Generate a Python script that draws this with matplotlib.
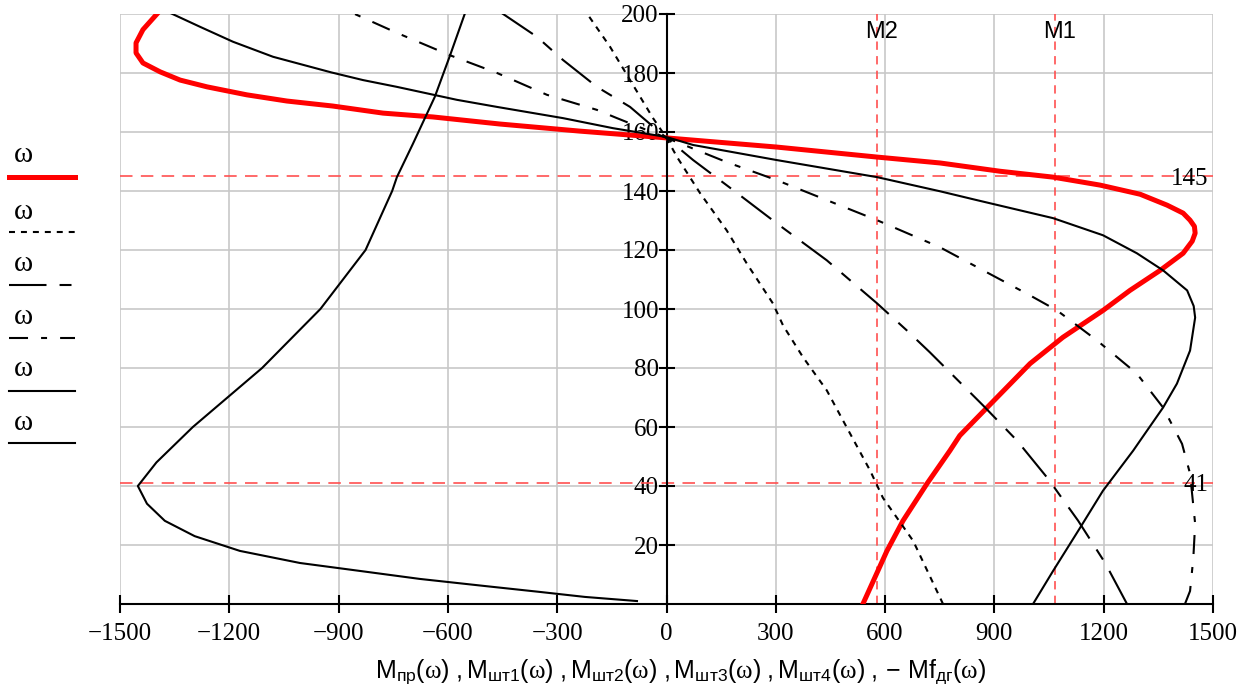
import matplotlib.pyplot as plt
from matplotlib.lines import Line2D

plt.rcParams["font.family"] = ["Liberation Serif", "DejaVu Serif"]
plt.rcParams["mathtext.fontset"] = "custom"
plt.rcParams["mathtext.rm"] = "Liberation Sans"
plt.rcParams["mathtext.it"] = "Liberation Serif"
plt.rcParams["lines.scale_dashes"] = False

# приведённый момент M_пр(ω)
w_pr = [0, 18, 28.2, 40.8, 52, 57.1, 66.6, 81.5, 90.4, 99.5, 106.3, 113.1, 118.9, 123, 125.7, 128,
        130.1, 132.5, 135.2, 138.9, 142, 144.7, 146.7, 149.5, 151.5, 154.9, 158, 160.3, 162.7,
        165.1, 166.4, 168.8, 170.5, 172.6, 175.3, 177.6, 180.4, 183.4, 186.8, 190.2, 194.7, 200.5]
m_pr = [539, 605, 649, 715, 778, 805, 880, 998, 1088, 1198, 1272, 1355, 1418, 1443, 1451, 1449,
        1437, 1418, 1374, 1300, 1190, 1061, 915, 751, 578, 302, 0, -238, -457,
        -641, -778, -916, -1042, -1152, -1261, -1335, -1390, -1437, -1456, -1456, -1437, -1395]

# M_шт1(ω)
w_sht1 = [0, 21.4, 36, 45.2, 59.8, 72.4, 83.6, 94.4, 101.9, 115.5, 126.7, 139.3, 151.5, 158,
          164.7, 177.6, 188.9, 200.3]
m_sht1 = [759, 677, 594, 559, 495, 440, 375, 320, 292, 220, 165, 92, 29, 0,
          -37, -100, -155, -219]

# M_шт2(ω)
w_sht2 = [0, 13.9, 28.2, 42.5, 51.3, 55.4, 67.3, 85.3, 92.7, 101.9, 116.5, 129.1, 140.3, 150.5,
          158, 164.7, 168.5, 175.3, 184.4, 192.3, 200.3]
m_sht2 = [1264, 1204, 1130, 1047, 989, 962, 869, 723, 660, 578, 440, 302, 183, 73,
          0, -64, -100, -191, -284, -356, -452]

# M_шт3(ω)
w_sht3 = [0, 4.4, 15.6, 27.2, 44.2, 54.3, 66.6, 78.1, 89.3, 99.5, 104.6, 113.1, 120.9, 130.1,
          136.9, 143.7, 149.8, 158, 164.7, 167.5, 172.6, 180, 186, 193.6, 200.3]
m_sht3 = [1423, 1437, 1446, 1451, 1437, 1415, 1363, 1291, 1182, 1072, 998, 869, 751, 578,
          440, 302, 165, 0, -136, -191, -328, -465, -594, -740, -861]

# M_шт4(ω)
w_sht4 = [0, 11.2, 25.8, 38.4, 52, 55.4, 66.6, 74.7, 85.9, 97.1, 101, 106.3, 113.1, 118.9, 125,
          130.8, 136.9, 139.9, 144.7, 150.5, 155.6, 158.3, 161.3, 164.7, 168.5, 170.9, 175.3,
          177.6, 180.2, 185.5, 190.6, 195.7, 200.4]
m_sht4 = [1006, 1061, 1135, 1198, 1281, 1300, 1363, 1401, 1437, 1451, 1447, 1429, 1363, 1291, 1198,
          1061, 852, 751, 578, 302, 73, 0, -147, -284, -465, -575, -740,
          -833, -920, -1080, -1190, -1281, -1363]

# -Mf_дг(ω)
w_dg = [1, 2.4, 4.1, 6.1, 8.5, 11.2, 13.9, 18, 23, 28.2, 34, 40, 48, 60, 80, 100, 120, 140,
        144.7, 156, 171.9, 186, 200.3]
m_dg = [-81, -224, -348, -499, -677, -841, -1006, -1171, -1295, -1377, -1426, -1451, -1400, -1300,
        -1110, -950, -826, -753, -740, -696, -636, -594, -553]

# расчётные уровни
w_levels = [145, 41]
m_levels = [578, 1066]
m_names = ["M2", "M1"]

x_ticks = list(range(-1500, 1501, 300))
y_ticks = list(range(20, 201, 20))

fig = plt.figure(figsize=(12.57, 6.93), dpi=100)
ax = fig.add_axes([120 / 1257, 1 - 604 / 693, 1093 / 1257, 590 / 693])

ax.set_xlim(-1500, 1500)
ax.set_ylim(0, 200)
ax.set_xticks(x_ticks)
ax.set_yticks(y_ticks)
ax.grid(True, color="#c8c8c8", lw=1.2, zorder=0)
ax.set_axisbelow(True)

for s in ["top", "right"]:
    ax.spines[s].set_visible(False)
ax.spines["left"].set_position(("data", 0))
ax.spines["left"].set_linewidth(1.5)
ax.spines["bottom"].set_linewidth(1.5)
ax.tick_params(axis="x", direction="inout", length=13, width=1.5, labelsize=18, pad=7)
ax.tick_params(axis="y", direction="inout", length=11, width=1.5, labelsize=18, pad=0)

# вспомогательные линии
for w in w_levels:
    ax.axhline(w, color="#ff5050", lw=1.2, dashes=(9, 6), zorder=1)
    ax.text(1487, w - 0.8, str(w), ha="right", va="center", fontsize=18, zorder=5)
for m, name in zip(m_levels, m_names):
    ax.axvline(m, color="#ff5050", lw=1.2, dashes=(6, 4.5), zorder=1)
    ax.text(m + 12, 194, name, ha="center", va="center", fontsize=17,
            family="Liberation Sans", zorder=5)

styles = [
    dict(color="red", lw=3.6),
    dict(color="black", lw=1.5, dashes=(4.3, 4.3)),
    dict(color="black", lw=1.5, dashes=(27, 9.4, 8.6, 9.4)),
    dict(color="black", lw=1.5, dashes=(13.7, 9.4, 4.3, 9.4)),
    dict(color="black", lw=1.5),
    dict(color="black", lw=1.5),
]
curves = [(m_pr, w_pr), (m_sht1, w_sht1), (m_sht2, w_sht2), (m_sht3, w_sht3),
          (m_sht4, w_sht4), (m_dg, w_dg)]

for (m, w), st in zip(curves, styles):
    ax.plot(m, w, zorder=3, **st)

# подписи кривых слева
text_y = [155, 212, 264, 317, 369, 423]
line_y = [177, 232, 285, 338, 391, 443]
for ty, ly, st in zip(text_y, line_y, styles):
    fig.text(14 / 1257, 1 - ty / 693, "ω", ha="left", va="center", fontsize=21)
    fig.add_artist(Line2D([9 / 1257, 75 / 1257], [1 - ly / 693, 1 - ly / 693],
                          transform=fig.transFigure, **st))

parts = [r"\mathrm{M}_{\mathrm{пр}}(\mathit{ω})",
         r"\mathrm{M}_{\mathrm{шт1}}(\mathit{ω})",
         r"\mathrm{M}_{\mathrm{шт2}}(\mathit{ω})",
         r"\mathrm{M}_{\mathrm{шт3}}(\mathit{ω})",
         r"\mathrm{M}_{\mathrm{шт4}}(\mathit{ω})",
         r"-\,\mathrm{Mf}_{\mathrm{дг}}(\mathit{ω})"]
label = "$" + r"\ ,".join(parts) + "$"
fig.text(681 / 1257, 1 - 672 / 693, label, ha="center", va="center", fontsize=18)

fig.savefig("out.png", dpi=100)
